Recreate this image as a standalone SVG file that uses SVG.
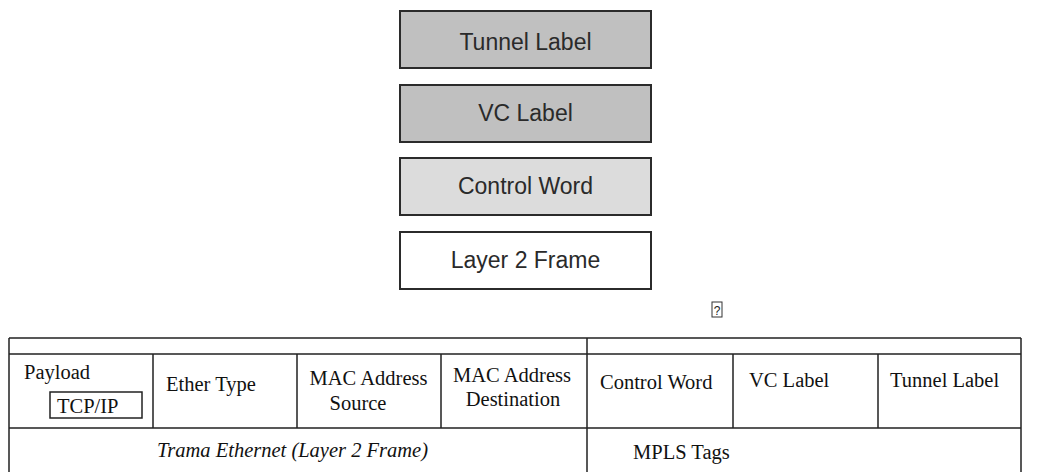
<svg xmlns="http://www.w3.org/2000/svg" width="1047" height="472" viewBox="0 0 1047 472">
<style>
.box{stroke:#2b2b2b;stroke-width:2}
.lbl{font-family:"Liberation Sans",Arial,sans-serif;font-size:23px;fill:#2a2a2a;text-anchor:middle}
.t{font-family:"Liberation Serif","Times New Roman",serif;font-size:20.5px;fill:#111}
.ln{stroke:#222;stroke-width:1.5;fill:none}
</style>
<rect width="1047" height="472" fill="#fff"/>
<g id="tunnel-label"><rect class="box" x="400" y="11" width="251" height="57" fill="#c0c0c0"/><text class="lbl" x="525.5" y="50">Tunnel Label</text></g>
<g id="vc-label"><rect class="box" x="400" y="85" width="251" height="57" fill="#c0c0c0"/><text class="lbl" x="525.5" y="121">VC Label</text></g>
<g id="control-word"><rect class="box" x="400" y="158" width="251" height="57" fill="#dcdcdc"/><text class="lbl" x="525.5" y="194">Control Word</text></g>
<g id="layer2-frame"><rect class="box" x="400" y="232" width="251" height="57" fill="#fff"/><text class="lbl" x="525.5" y="268">Layer 2 Frame</text></g>
<g id="placeholder"><rect x="712" y="302" width="10" height="15" fill="none" stroke="#333" stroke-width="1"/><text x="717" y="315" font-family="Liberation Sans,sans-serif" font-size="12" text-anchor="middle" fill="#222">?</text></g>
<g id="table">
<path class="ln" d="M9 338H1021M9 354H1021M9 428H1021M9 338V472M1021 338V472M587 338V472M153 354V428M297 354V428M441 354V428M733 354V428M878 354V428"/>
<rect x="50" y="392" width="92" height="26" fill="none" stroke="#222" stroke-width="1.5"/>
<text class="t" x="24" y="379">Payload</text>
<text class="t" x="57" y="413">TCP/IP</text>
<text class="t" x="166" y="391">Ether Type</text>
<text class="t" x="368.5" y="385" text-anchor="middle">MAC Address</text>
<text class="t" x="358" y="410" text-anchor="middle">Source</text>
<text class="t" x="512" y="382" text-anchor="middle">MAC Address</text>
<text class="t" x="513" y="406" text-anchor="middle">Destination</text>
<text class="t" x="600" y="389">Control Word</text>
<text class="t" x="749" y="387">VC Label</text>
<text class="t" x="890" y="387">Tunnel Label</text>
<text class="t" x="292.5" y="457" text-anchor="middle" font-style="italic">Trama Ethernet (Layer 2 Frame)</text>
<text class="t" x="633" y="459">MPLS Tags</text>
</g>
</svg>
